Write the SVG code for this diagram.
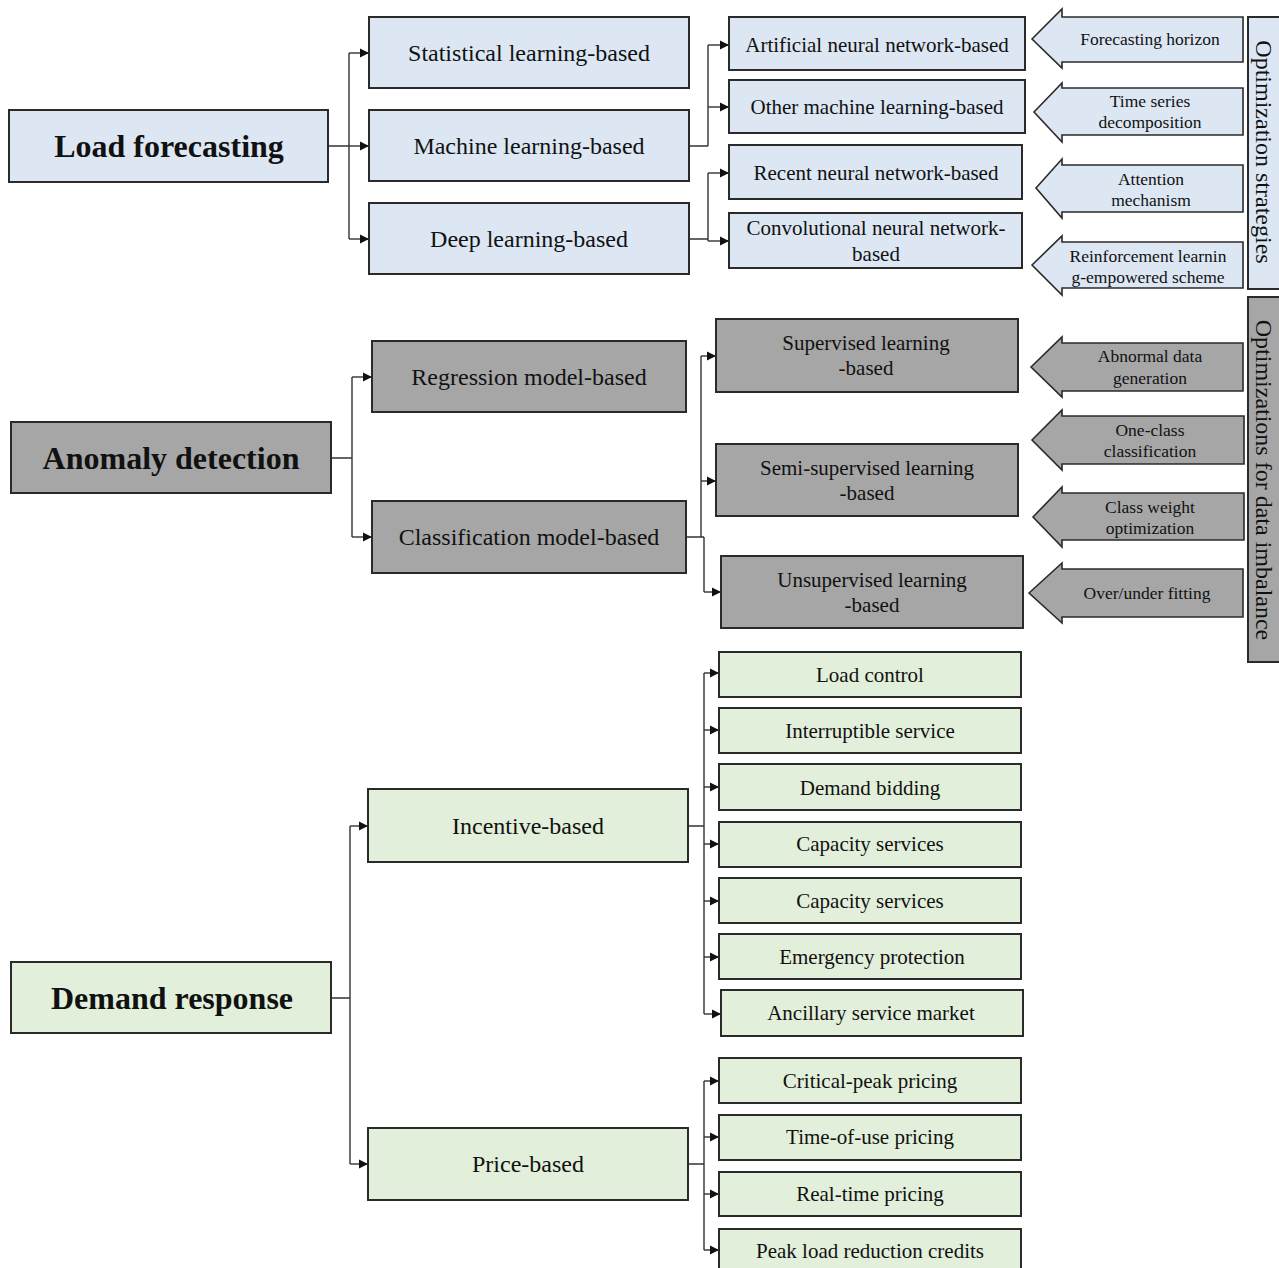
<svg xmlns="http://www.w3.org/2000/svg" width="1279" height="1268" viewBox="0 0 1279 1268">
<style>
text{font-family:"Liberation Serif","Times New Roman",serif;fill:#111;text-anchor:middle}
.root{font-size:32px;font-weight:bold}
.l2{font-size:24px}
.l3{font-size:21px}
.lf{font-size:21px}
.ar{font-size:17.5px}
.vt{font-size:24px}
.box{stroke:#2a2a2a;stroke-width:2}
.blue{fill:#dce7f3}
.gray{fill:#a6a6a6}
.green{fill:#e2efda}
.blk{stroke:#2a2a2a;stroke-width:1.6;stroke-linejoin:miter}
.c{fill:none;stroke:#333;stroke-width:1.4}
.a{fill:none;stroke:#333;stroke-width:1.4;marker-end:url(#ah)}
</style>
<defs>
<marker id="ah" markerUnits="userSpaceOnUse" markerWidth="10" markerHeight="10" refX="9" refY="5" orient="auto" viewBox="0 0 10 10">
<path d="M0,0.5 L9,5 L0,9.5 Z" fill="#111"/>
</marker>
</defs>
<rect width="1279" height="1268" fill="#fff"/>

<g id="connectors">
<path class="c" d="M328,146 H349 M349,53 V239"/>
<path class="a" d="M349,53 H369"/>
<path class="a" d="M349,146 H369"/>
<path class="a" d="M349,239 H369"/>
<path class="c" d="M689,146 H708 M708,45 V146"/>
<path class="a" d="M708,45 H729"/>
<path class="a" d="M708,107 H729"/>
<path class="c" d="M689,239 H708 M708,173 V241"/>
<path class="a" d="M708,173 H729"/>
<path class="a" d="M708,241 H729"/>

<path class="c" d="M331,458 H352 M352,377 V537"/>
<path class="a" d="M352,377 H372"/>
<path class="a" d="M352,537 H372"/>
<path class="c" d="M686,537 H704 M701,356 V537 M704,537 V592"/>
<path class="a" d="M701,356 H716"/>
<path class="a" d="M701,481 H716"/>
<path class="a" d="M704,592 H721"/>

<path class="c" d="M331,998 H350 M350,826 V1164"/>
<path class="a" d="M350,826 H368"/>
<path class="a" d="M350,1164 H368"/>
<path class="c" d="M688,826 H704 M704,673 V1014"/>
<path class="a" d="M704,673 H719"/>
<path class="a" d="M704,730 H719"/>
<path class="a" d="M704,787 H719"/>
<path class="a" d="M704,844 H719"/>
<path class="a" d="M704,901 H719"/>
<path class="a" d="M704,957 H719"/>
<path class="a" d="M704,1014 H721"/>
<path class="c" d="M688,1164 H704 M704,1081 V1250"/>
<path class="a" d="M704,1081 H719"/>
<path class="a" d="M704,1137 H719"/>
<path class="a" d="M704,1194 H719"/>
<path class="a" d="M704,1250 H719"/>
</g>

<!-- Load forecasting -->
<g id="load-forecasting"><rect class="box blue" x="9" y="110" width="319" height="72"/><text class="root" x="169" y="157">Load forecasting</text></g>
<g id="statistical"><rect class="box blue" x="369" y="17" width="320" height="71"/><text class="l2" x="529" y="61">Statistical learning-based</text></g>
<g id="machine"><rect class="box blue" x="369" y="110" width="320" height="71"/><text class="l2" x="529" y="154">Machine learning-based</text></g>
<g id="deep"><rect class="box blue" x="369" y="203" width="320" height="71"/><text class="l2" x="529" y="247">Deep learning-based</text></g>
<g id="ann"><rect class="box blue" x="729" y="17" width="296" height="53"/><text class="l3" x="877" y="52">Artificial neural network-based</text></g>
<g id="other-ml"><rect class="box blue" x="729" y="80" width="296" height="53"/><text class="l3" x="877" y="114">Other machine learning-based</text></g>
<g id="rnn"><rect class="box blue" x="729" y="145" width="293" height="54"/><text class="l3" x="876" y="180">Recent neural network-based</text></g>
<g id="cnn"><rect class="box blue" x="729" y="213" width="293" height="55"/><text class="l3" x="876" y="235">Convolutional neural network-</text><text class="l3" x="876" y="261">based</text></g>

<g id="forecasting-horizon"><polygon class="blk blue" points="1032,39 1062,9 1062,17 1243,17 1243,62 1062,62 1062,68"/><text class="ar" x="1150" y="45">Forecasting horizon</text></g>
<g id="time-series"><polygon class="blk blue" points="1034,112 1062,83 1062,88 1243,88 1243,135 1062,135 1062,142"/><text class="ar" x="1150" y="107">Time series</text><text class="ar" x="1150" y="128">decomposition</text></g>
<g id="attention"><polygon class="blk blue" points="1036,188 1062,159 1062,165 1243,165 1243,212 1062,212 1062,218"/><text class="ar" x="1151" y="185">Attention</text><text class="ar" x="1151" y="206">mechanism</text></g>
<g id="reinforcement"><polygon class="blk blue" points="1032,265 1062,236 1062,242 1243,242 1243,288 1062,288 1062,295"/><text class="ar" x="1148" y="262">Reinforcement learnin</text><text class="ar" x="1148" y="283">g-empowered scheme</text></g>
<g id="optimization-strategies"><rect class="box blue" x="1248" y="17" width="40" height="272"/><text class="vt" transform="translate(1264,152) rotate(90)" y="8">Optimization strategies</text></g>

<!-- Anomaly detection -->
<g id="anomaly-detection"><rect class="box gray" x="11" y="422" width="320" height="71"/><text class="root" x="171" y="469">Anomaly detection</text></g>
<g id="regression"><rect class="box gray" x="372" y="341" width="314" height="71"/><text class="l2" x="529" y="385">Regression model-based</text></g>
<g id="classification"><rect class="box gray" x="372" y="501" width="314" height="72"/><text class="l2" x="529" y="545">Classification model-based</text></g>
<g id="supervised"><rect class="box gray" x="716" y="319" width="302" height="73"/><text class="l3" x="866" y="350">Supervised learning</text><text class="l3" x="866" y="375">-based</text></g>
<g id="semi-supervised"><rect class="box gray" x="716" y="444" width="302" height="72"/><text class="l3" x="867" y="475">Semi-supervised learning</text><text class="l3" x="867" y="500">-based</text></g>
<g id="unsupervised"><rect class="box gray" x="721" y="556" width="302" height="72"/><text class="l3" x="872" y="587">Unsupervised learning</text><text class="l3" x="872" y="612">-based</text></g>

<g id="abnormal-data"><polygon class="blk gray" points="1031,367 1062,337 1062,343 1243,343 1243,391 1062,391 1062,397"/><text class="ar" x="1150" y="362">Abnormal data</text><text class="ar" x="1150" y="384">generation</text></g>
<g id="one-class"><polygon class="blk gray" points="1032,440 1062,410 1062,416 1244,416 1244,464 1062,464 1062,470"/><text class="ar" x="1150" y="436">One-class</text><text class="ar" x="1150" y="457">classification</text></g>
<g id="class-weight"><polygon class="blk gray" points="1033,517 1062,487 1062,493 1244,493 1244,540 1062,540 1062,547"/><text class="ar" x="1150" y="513">Class weight</text><text class="ar" x="1150" y="534">optimization</text></g>
<g id="over-under"><polygon class="blk gray" points="1029,593 1062,563 1062,569 1243,569 1243,617 1062,617 1062,623"/><text class="ar" x="1147" y="599">Over/under fitting</text></g>
<g id="optimizations-imbalance"><rect class="box gray" x="1248" y="297" width="40" height="365"/><text class="vt" transform="translate(1264,480) rotate(90)" y="8">Optimizations for data imbalance</text></g>

<!-- Demand response -->
<g id="demand-response"><rect class="box green" x="11" y="962" width="320" height="71"/><text class="root" x="172" y="1009">Demand response</text></g>
<g id="incentive"><rect class="box green" x="368" y="789" width="320" height="73"/><text class="l2" x="528" y="834">Incentive-based</text></g>
<g id="price"><rect class="box green" x="368" y="1128" width="320" height="72"/><text class="l2" x="528" y="1172">Price-based</text></g>
<g id="load-control"><rect class="box green" x="719" y="652" width="302" height="45"/><text class="lf" x="870" y="682">Load control</text></g>
<g id="interruptible"><rect class="box green" x="719" y="708" width="302" height="45"/><text class="lf" x="870" y="738">Interruptible service</text></g>
<g id="demand-bidding"><rect class="box green" x="719" y="764" width="302" height="46"/><text class="lf" x="870" y="795">Demand bidding</text></g>
<g id="capacity-1"><rect class="box green" x="719" y="822" width="302" height="45"/><text class="lf" x="870" y="851">Capacity services</text></g>
<g id="capacity-2"><rect class="box green" x="719" y="878" width="302" height="45"/><text class="lf" x="870" y="908">Capacity services</text></g>
<g id="emergency"><rect class="box green" x="719" y="934" width="302" height="45"/><text class="lf" x="872" y="964">Emergency protection</text></g>
<g id="ancillary"><rect class="box green" x="721" y="990" width="302" height="46"/><text class="lf" x="871" y="1020">Ancillary service market</text></g>
<g id="critical-peak"><rect class="box green" x="719" y="1058" width="302" height="45"/><text class="lf" x="870" y="1088">Critical-peak pricing</text></g>
<g id="time-of-use"><rect class="box green" x="719" y="1115" width="302" height="45"/><text class="lf" x="870" y="1144">Time-of-use pricing</text></g>
<g id="real-time"><rect class="box green" x="719" y="1172" width="302" height="44"/><text class="lf" x="870" y="1201">Real-time pricing</text></g>
<g id="peak-load"><rect class="box green" x="719" y="1229" width="302" height="50"/><text class="lf" x="870" y="1258">Peak load reduction credits</text></g>
</svg>
